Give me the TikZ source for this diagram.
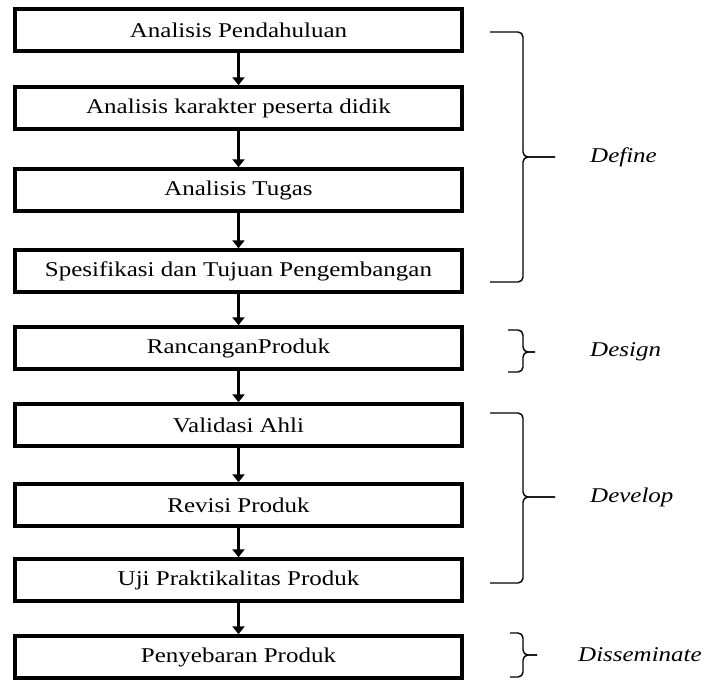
\documentclass[tikz,border=0pt]{standalone}
\usepackage{graphicx}
\usepackage{fontspec}
\setmainfont{Liberation Serif}
\usepackage{tikz}
\usetikzlibrary{arrows.meta}

\newcommand{\lebar}[1]{\scalebox{1.19}[1]{#1}}

\begin{document}
\begin{tikzpicture}[x=1pt, y=-1pt, >={Triangle[width=12pt,length=8pt]},
  tahap/.style={draw, line width=3.5pt, minimum width=447pt, minimum height=42pt,
    inner sep=0pt, font=\fontsize{21}{24}\selectfont},
  fase/.style={anchor=west, inner sep=0pt, font=\fontsize{21}{24}\selectfont\itshape},
  panah/.style={->, line width=3pt}]
  \useasboundingbox (0,0) rectangle (708,681);
  % tahapan
  \node[tahap] (pendahuluan) at (238.5,30)  {\lebar{Analisis Pendahuluan}};
  \node[tahap] (karakter)    at (238.5,108) {\lebar{Analisis karakter peserta didik}};
  \node[tahap] (tugas)       at (238.5,190) {\lebar{Analisis Tugas}};
  \node[tahap] (spesifikasi) at (238.5,271) {\lebar{Spesifikasi dan Tujuan Pengembangan}};
  \node[tahap] (rancangan)   at (238.5,348) {\lebar{RancanganProduk}};
  \node[tahap] (validasi)    at (238.5,425) {\lebar{Validasi Ahli}};
  \node[tahap] (revisi)      at (238.5,505) {\lebar{Revisi Produk}};
  \node[tahap] (uji)         at (238.5,580) {\lebar{Uji Praktikalitas Produk}};
  \node[tahap] (penyebaran)  at (238.5,657) {\lebar{Penyebaran Produk}};
  \foreach \dari/\ke in {pendahuluan/karakter, karakter/tugas, tugas/spesifikasi,
      spesifikasi/rancangan, rancangan/validasi, validasi/revisi, revisi/uji, uji/penyebaran} {
    \draw[panah] (\dari) -- (\ke);
  }
  % kurung kurawal dan fase
  \foreach \atas/\bawah/\tengah/\kiri/\ujung/\teks/\nama in
      {32/282/157/490/555/590/Define, 330/372/352/508/535/590/Design,
       413/583/497/490/555/590/Develop, 633/677/655/510/537/578/Disseminate} {
    \draw[line width=1.4pt, rounded corners=5pt] (\kiri,\atas) -- (523,\atas) -- (523,\tengah) -- (\ujung,\tengah);
    \draw[line width=1.4pt, rounded corners=5pt] (\kiri,\bawah) -- (523,\bawah) -- (523,\tengah) -- (\ujung,\tengah);
    \node[fase] (\nama) at (\teks,\tengah) {\lebar{\nama}};
  }
\end{tikzpicture}
\end{document}
